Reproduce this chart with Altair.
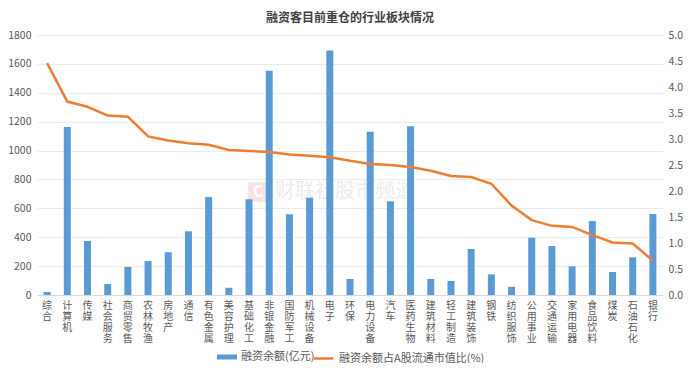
import altair as alt
import pandas as pd

categories = ["综合", "计算机", "传媒", "社会服务", "商贸零售", "农林牧渔", "房地产", "通信", "有色金属", "美容护理",
              "基础化工", "非银金融", "国防军工", "机械设备", "电子", "环保", "电力设备", "汽车", "医药生物", "建筑材料",
              "轻工制造", "建筑装饰", "钢铁", "纺织服饰", "公用事业", "交通运输", "家用电器", "食品饮料", "煤炭", "石油石化", "银行"]
amount = [21, 1163, 374, 76, 194, 235, 296, 441, 678, 50,
          663, 1553, 559, 674, 1692, 111, 1131, 649, 1168, 111,
          97, 318, 143, 57, 397, 339, 199, 512, 159, 261, 561]
ratio = [4.46, 3.72, 3.62, 3.45, 3.43, 3.05, 2.97, 2.92, 2.89, 2.79,
         2.77, 2.75, 2.70, 2.68, 2.65, 2.58, 2.52, 2.50, 2.46, 2.39,
         2.29, 2.27, 2.14, 1.72, 1.44, 1.33, 1.31, 1.15, 1.01, 0.99, 0.66]
left_ticks = [0, 200, 400, 600, 800, 1000, 1200, 1400, 1600, 1800]
right_ticks = [0, 0.5, 1.0, 1.5, 2.0, 2.5, 3.0, 3.5, 4.0, 4.5, 5.0]
title_text = "融资客目前重仓的行业板块情况"
bar_name = "融资余额(亿元)"
line_name = "融资余额占A股流通市值比(%)"
watermark = "财联社股市频道"

df = pd.DataFrame({"cat": categories, "amount": amount, "ratio": ratio})

FONT = "Noto Sans CJK SC"
GRAY = "#595959"

x = alt.X("cat:N", sort=categories, title=None,
          scale=alt.Scale(paddingInner=0, paddingOuter=0),
          axis=alt.Axis(labelAngle=0, labelExpr="split(datum.label, '')",
                        labelLineHeight=11, labelFontSize=10, labelColor=GRAY,
                        labelBaseline="top", labelPadding=5,
                        ticks=False, domainColor="#d9d9d9", labelFont=FONT))

bars = alt.Chart(df).mark_bar(size=7, color="#5b9bd5").encode(
    x=x,
    y=alt.Y("amount:Q", title=None,
            scale=alt.Scale(domain=[0, 1800], nice=False),
            axis=alt.Axis(values=left_ticks, format="d", grid=True, gridColor="#ebebeb",
                          domain=False, ticks=False, labelPadding=6,
                          labelColor=GRAY, labelFontSize=10.5, labelFont=FONT)),
    color=alt.Color("s:N", scale=alt.Scale(domain=[bar_name], range=["#5b9bd5"]),
                    legend=alt.Legend(title=None, orient="none", legendX=180, legendY=312,
                                      symbolType="M-1,-0.25H1V0.25H-1Z", symbolSize=400,
                                      labelFontSize=11, labelColor=GRAY, labelFont=FONT,
                                      symbolStrokeWidth=0)),
).transform_calculate(s=f"'{bar_name}'")

logo = alt.Chart(pd.DataFrame({"t": ["C"]})).mark_square(
    size=380, color="#fbe1e1", opacity=1
).encode(x=alt.value(221), y=alt.value(157))

logo_c = alt.Chart(pd.DataFrame({"t": ["C"]})).mark_text(
    fontSize=16, color="#ffffff", font=FONT, fontWeight="bold", align="center", baseline="middle"
).encode(text="t:N", x=alt.value(221), y=alt.value(157))

wm = alt.Chart(pd.DataFrame({"t": [watermark]})).mark_text(
    fontSize=20, color="#ececec", font=FONT, align="left", baseline="middle"
).encode(text="t:N", x=alt.value(238), y=alt.value(157))

line = alt.Chart(df).mark_line(strokeWidth=2.5, color="#ed7d31").encode(
    x=alt.X("cat:N", sort=categories),
    y=alt.Y("ratio:Q", title=None,
            scale=alt.Scale(domain=[0, 5], nice=False),
            axis=alt.Axis(orient="right", values=right_ticks, format=".1f", grid=False,
                          domain=False, ticks=False, labelPadding=5,
                          labelColor=GRAY, labelFontSize=10.5, labelFont=FONT)),
    color=alt.Color("s:N", scale=alt.Scale(domain=[line_name], range=["#ed7d31"]),
                    legend=alt.Legend(title=None, orient="none", legendX=275, legendY=312,
                                      symbolType="stroke", symbolSize=400, symbolStrokeWidth=2.5,
                                      labelFontSize=11, labelColor=GRAY, labelFont=FONT)),
).transform_calculate(s=f"'{line_name}'")

chart = alt.layer(logo, logo_c, wm, bars, line).resolve_scale(
    y="independent", color="independent"
).properties(
    width=626, height=260,
    title=alt.Title(title_text, fontSize=12, font=FONT, fontWeight="bold",
                    color="#404040", anchor="middle", offset=5),
    autosize=alt.AutoSizeParams(type="none"),
    padding={"left": 29, "top": 27, "right": 22, "bottom": 68},
).configure_view(stroke=None)

chart.save("out.html", embed_options={"renderer": "svg", "actions": False})
